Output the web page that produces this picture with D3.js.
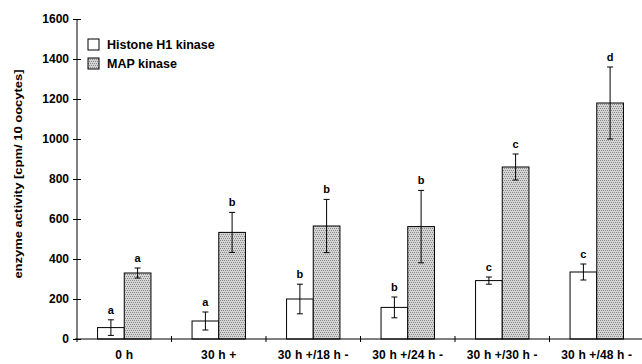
<!DOCTYPE html>
<html>
<head>
<meta charset="utf-8">
<script src="https://cdn.jsdelivr.net/npm/d3@7"></script>
<style>
  body { margin: 0; background: #fff; }
  text { font-family: "Liberation Sans", Arial, sans-serif; font-weight: bold; fill: #000; }
</style>
</head>
<body>
<svg></svg>
<script>
// chart data
const categories = ['0 h', '30 h +', '30 h +/18 h -', '30 h +/24 h -', '30 h +/30 h -', '30 h +/48 h -'];
const seriesNames = ['Histone H1 kinase', 'MAP kinase'];
const h1Values = [57, 90, 200, 158, 292, 335];
const h1Errors = [39, 45, 74, 52, 18, 40];
const h1Letters = ['a', 'a', 'b', 'b', 'c', 'c'];
const mapValues = [330, 533, 565, 562, 860, 1180];
const mapErrors = [25, 100, 133, 181, 65, 180];
const mapLetters = ['a', 'b', 'b', 'b', 'c', 'd'];
const yTicks = [0, 200, 400, 600, 800, 1000, 1200, 1400, 1600];

const size = {w: 642, h: 364};
const margin = {t: 19, r: -2, b: 25, l: 77};

const svg = d3.select('svg')
    .attr('width', size.w)
    .attr('height', size.h);

// dotted grey fill for MAP kinase bars
const defs = svg.append('defs');
const pat = defs.append('pattern')
    .attr('id', 'dots')
    .attr('patternUnits', 'userSpaceOnUse')
    .attr('width', 4).attr('height', 4);
pat.append('rect').attr('width', 4).attr('height', 4).attr('fill', '#d4d4d4');
[[0, 0], [2, 0], [1, 2], [3, 2]].forEach(p => {
    pat.append('rect')
        .attr('x', p[0]).attr('y', p[1])
        .attr('width', 1).attr('height', 1)
        .attr('fill', '#8a8a8a')
        .attr('shape-rendering', 'crispEdges');
});

const x0 = d3.scaleBand()
    .domain(categories)
    .range([margin.l, size.w - margin.r]);

const x1 = d3.scaleBand()
    .domain(seriesNames)
    .range([-26.7, 26.7]);

const y = d3.scaleLinear()
    .domain([0, 1600])
    .range([size.h - margin.b, margin.t]);

const rows = categories.map((c, i) => ([
    {cat: c, s: seriesNames[0], v: h1Values[i], e: h1Errors[i], l: h1Letters[i]},
    {cat: c, s: seriesNames[1], v: mapValues[i], e: mapErrors[i], l: mapLetters[i]}
])).flat();

const center = c => x0(c) + x0.bandwidth() / 2;

// bars
svg.append('g').selectAll('rect')
    .data(rows)
    .enter()
    .append('rect')
    .attr('x', d => center(d.cat) + x1(d.s))
    .attr('y', d => y(d.v))
    .attr('width', x1.bandwidth())
    .attr('height', d => y(0) - y(d.v))
    .attr('fill', d => d.s === seriesNames[0] ? '#fff' : 'url(#dots)')
    .attr('stroke', '#000')
    .attr('stroke-width', 1);

// error bars
const eb = svg.append('g').attr('stroke', '#000').attr('stroke-width', 1);
rows.forEach(d => {
    const cx = center(d.cat) + x1(d.s) + x1.bandwidth() / 2;
    eb.append('line').attr('x1', cx).attr('x2', cx)
        .attr('y1', y(d.v + d.e)).attr('y2', y(d.v - d.e));
    [d.v + d.e, d.v - d.e].forEach(v => {
        eb.append('line').attr('x1', cx - 3).attr('x2', cx + 3)
            .attr('y1', y(v)).attr('y2', y(v));
    });
});

// significance letters
svg.append('g').selectAll('text')
    .data(rows)
    .enter()
    .append('text')
    .attr('x', d => center(d.cat) + x1(d.s) + x1.bandwidth() / 2)
    .attr('y', d => y(d.v + d.e) - 6)
    .attr('text-anchor', 'middle')
    .attr('font-size', 11)
    .text(d => d.l);

// y axis
const yAxis = d3.axisLeft(y)
    .tickValues(yTicks)
    .tickSize(0)
    .tickPadding(8)
    .tickFormat(d3.format('d'));
const gy = svg.append('g')
    .attr('transform', 'translate(' + margin.l + ',0)')
    .call(yAxis);
gy.select('.domain').attr('stroke', '#000').attr('d', 'M0,' + (y(0) + 3) + 'V' + y(1600));
gy.selectAll('.tick line').remove();
gy.selectAll('.tick').append('line')
    .attr('x1', -4).attr('x2', 4).attr('stroke', '#000');
gy.selectAll('.tick text').attr('font-size', 12).attr('font-family', null);

// x axis
const gx = svg.append('g')
    .attr('transform', 'translate(0,' + y(0) + ')');
gx.append('line')
    .attr('x1', margin.l - 2).attr('x2', size.w)
    .attr('stroke', '#000');
gx.selectAll('.sep')
    .data(categories.slice(1))
    .enter()
    .append('line')
    .attr('x1', d => x0(d)).attr('x2', d => x0(d))
    .attr('y1', -3).attr('y2', 3)
    .attr('stroke', '#000');
gx.selectAll('.lab')
    .data(categories)
    .enter()
    .append('text')
    .attr('x', d => center(d))
    .attr('y', 20)
    .attr('text-anchor', 'middle')
    .attr('font-size', 12)
    .attr('letter-spacing', 0.15)
    .text(d => d);

// y axis title (the original face is wide, so stretch it along the text)
svg.append('text')
    .attr('transform', 'translate(22,174) rotate(-90) scale(1.3,1)')
    .attr('text-anchor', 'middle')
    .attr('font-size', 10)
    .text('enzyme activity [cpm/ 10 oocytes]');

// legend
const lg = svg.append('g').attr('transform', 'translate(88,39)');
seriesNames.forEach((s, i) => {
    lg.append('rect')
        .attr('x', 0).attr('y', i * 19)
        .attr('width', 11).attr('height', 11)
        .attr('fill', i === 0 ? '#fff' : 'url(#dots)')
        .attr('stroke', '#000');
    lg.append('text')
        .attr('x', 19).attr('y', i * 19 + 10)
        .attr('font-size', 12.5)
        .text(s);
});
</script>
</body>
</html>
